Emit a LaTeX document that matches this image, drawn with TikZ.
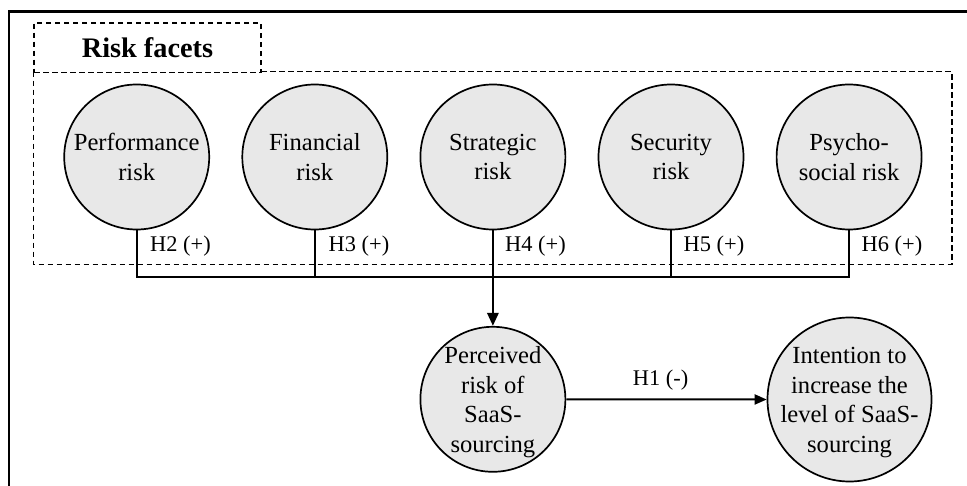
\documentclass[tikz,border=0pt]{standalone}
\usepackage{fontspec}
\setmainfont{Liberation Serif}
\usetikzlibrary{arrows.meta}
\definecolor{circfill}{HTML}{E8E8E8}
\tikzset{
  riskcirc/.style={circle, draw=black, line width=1.7pt, fill=circfill, minimum size=145pt, inner sep=0pt},
  bigcirc/.style={circle, draw=black, line width=1.7pt, fill=circfill, minimum size=164pt, inner sep=0pt},
  ctext/.style={align=center, inner sep=0pt, font=\fontsize{24.6}{29.5}\selectfont},
  hlabel/.style={anchor=base west, inner sep=0pt, font=\fontsize{22.4}{26}\selectfont},
  dashbox/.style={draw=black, line width=1.6pt, dash pattern=on 5.5pt off 3.5pt},
  conn/.style={draw=black, line width=2pt},
  mainarrow/.style={draw=black, line width=2.8pt, -{Triangle[length=13pt,width=11pt]}},
  harrow/.style={draw=black, line width=2pt, -{Triangle[length=12pt,width=10pt]}}
}
\begin{document}
\begin{tikzpicture}[x=1pt,y=-1pt]
\useasboundingbox (0,0) rectangle (967,486);
% outer frame (only top and left visible)
\draw[line width=2.6pt] (9,486) -- (9,11.7) -- (967,11.7);
% dashed boxes
\draw[dashbox] (33.3,71.7) rectangle (951.7,264.5);
\node[dashbox, fill=white, minimum width=226.7pt, minimum height=49.7pt, inner sep=0pt, anchor=north west,
      font=\fontsize{28.3}{32}\selectfont\bfseries] (title) at (33.3,22) {Risk facets};
% circles
\node[riskcirc] (perf) at (136.7,157) {};
\node[riskcirc] (fin)  at (314.8,157) {};
\node[riskcirc] (strat) at (492.9,157) {};
\node[riskcirc] (sec)  at (671,157) {};
\node[riskcirc] (psy)  at (849.1,157) {};
\node[ctext] (perf-t) at (perf) {Performance\\risk};
\node[ctext] (fin-t) at (fin) {Financial\\risk};
\node[ctext] (strat-t) at (strat) {Strategic\\risk};
\node[ctext] (sec-t) at (sec) {Security\\risk};
\node[ctext] (psy-t) at (psy) {Psycho-\\social risk};
\node[riskcirc] (perc) at (492.9,399.3) {};
\node[bigcirc] (intn) at (849.5,399.5) {};
\node[ctext, yshift=-3pt] (perc-t) at (perc) {Perceived\\risk of\\SaaS-\\sourcing};
\node[ctext, yshift=-3pt] (intn-t) at (intn) {Intention to\\increase the\\level of SaaS-\\sourcing};
% bus
\coordinate (bus) at (492.9,277.5);
\draw[conn] (perf.south) -- (perf.south |- bus) -- (psy.south |- bus) -- (psy.south);
\draw[conn] (fin.south) -- (fin.south |- bus);
\draw[conn] (strat.south) -- (bus);
\draw[conn] (sec.south) -- (sec.south |- bus);
\draw[mainarrow] (bus) -- (perc.north);
\draw[harrow] (perc.east) -- (intn.west);
% labels
\node[hlabel] (h2) at (150,251.7) {H2 (+)};
\node[hlabel] (h3) at (328.5,251.7) {H3 (+)};
\node[hlabel] (h4) at (505,251.7) {H4 (+)};
\node[hlabel] (h5) at (683.5,251.7) {H5 (+)};
\node[hlabel] (h6) at (861.5,251.7) {H6 (+)};
\node[hlabel] (h1) at (632.7,385) {H1 (-)};
\end{tikzpicture}
\end{document}
